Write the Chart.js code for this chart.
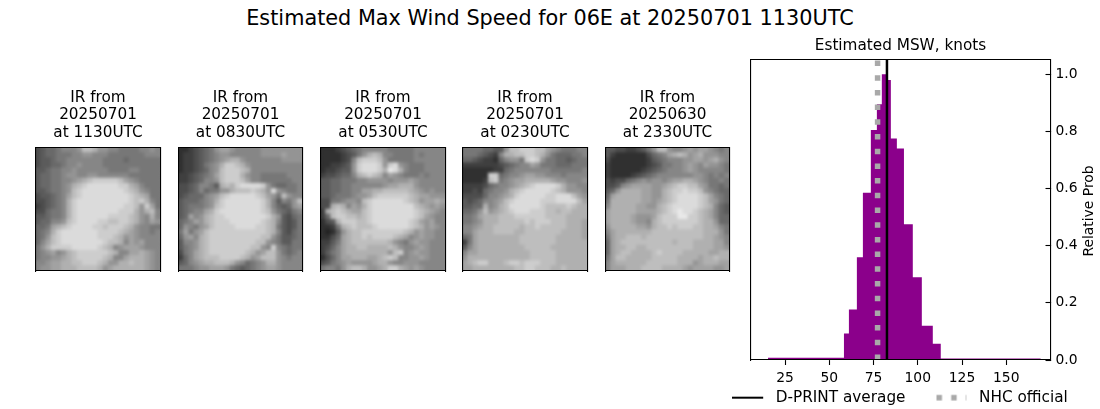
<!DOCTYPE html>
<html>
<head>
<meta charset="utf-8">
<style>
html,body{margin:0;padding:0;width:1100px;height:409px;background:#fff;overflow:hidden}
canvas{position:absolute;display:block}
#suptitle{position:absolute;left:0;top:6px;width:1100px;text-align:center;font:20.8px "DejaVu Sans";color:#000;line-height:25px}
</style>
<script src="https://cdn.jsdelivr.net/npm/chart.js@4/dist/chart.umd.min.js"></script>
</head>
<body>
<div id="suptitle">Estimated Max Wind Speed for 06E at 20250701 1130UTC</div>
<canvas id="p0"></canvas><canvas id="p1"></canvas><canvas id="p2"></canvas><canvas id="p3"></canvas><canvas id="p4"></canvas>
<canvas id="hist"></canvas>
<script>
// Histogram: bin edges (knots) and relative probability per bin
const binEdges = [15.4,58.3,61.1,65.6,69,73.5,76.9,79.7,82.6,84.8,88.2,92.2,97.2,102.3,108.5,113,169.5];
const binHeights = [0.008,0.093,0.177,0.36,0.585,0.805,0.895,1.0,0.98,0.775,0.74,0.475,0.29,0.12,0.057,0.005];
const dprintAverage = 82.6;
const nhcOfficial = 77.3;
const xTicks = [25,50,75,100,125,150];
const yTicks = [0,0.2,0.4,0.6,0.8,1.0];
const legendLabels = ["D-PRINT average","NHC official"];

// Panel titles
const panelDates = ["20250701","20250701","20250701","20250701","20250630"];
const panelTimes = ["1130UTC","0830UTC","0530UTC","0230UTC","2330UTC"];

// IR brightness on a 24x24 grid; one hex digit per cell (0 dark .. f bright)
const ir0 = ["456678889ccb998877778898","456677788998887777777888","455677888888877776777777","455667889888877777777777","556778898888887777887777","566778998899888888777777","56677889abcdddddca987777","5667789bcdeeeeeeddba8777","5567789cdeeeeeeeedcb9877","455678acdeeeeeeeeedcba77","445678bdeeeeeeeeeedcdb87","345678bdeeeeeeeeeddc9da7","446778bdeeeeeeeedddb9bc8","556778bdeeeeeeddddcb98b8","566889cdeeeeddccddcb98a9","667abcdeeeeddcdddcb98877","678bdeeeeeeeddddcba98878","679cdeeeeeeedddcb9a98888","68acdeeeeeeeedccb8a9a888","79bddddeeeeedcb89aaa9888","789a89bcddddddcb88aaba98","78899abcdddddcb88abbba98","889aabbccdddcb99bbcbba98","899aabbbccccb9abbbbbba98"];
const ir1 = ["22345679aa98888899999999","23345678998888889999a999","233456789abb988888889999","23345789bddcb98888888888","23345689cdddcb8888888888","3345678acdddb98877777888","33456889cdddca8877777788","44568875bcbdeeeed9766778","4456867799bcccdcb9e98778","4566689acdeeeeedca97c988","5666789bdeeeeeeedb85879c","5677789cdeeeeeeedb86569a","56788abdeeeeeeeedc976578","56a89bcddeeeeeeeedb95467","678a9bcdddeeeeeedcb85457","69879acddddeeeeddcb75457","7a79acdddddddddddcb85467","69a8bcddddddddddcc975567","5889bcdddddddddcc9875577","5789bcddddddddcc98d87677","478abcdddddddcb9acc97678","368abcccddddcb9accc98788","5689abbcccb986789bb98888","777899aaa97656789aa98888"];
const ir2 = ["222345678888877777888888","222234579bcb887777878888","2222348cdddc977777888888","2233459deeed9de987778888","2334559deeedbfeb87778888","3445668bcdcb8a9877787888","55667778899998999a988888","5566778888889aabbb988888","55667788aabbcccccba98988","556777899acddddddcbaa999","44778998cdeeeeeedcb9aaba","44bcb8a9bdeeeeeeeecba9a9","3bcdcbaacdeeeeeeeedcba98","36cddccbcdeeeeeeeedca988","245bdddccdeeeeeeedca9a88","2237bcdcccdeeeeeedcb9a98","21259bccddddddddcb9a9988","2246abccdcddddcba89a9988","3357abcccccccb9879a99888","3468abbccbbbbcb9889a9888","3578abbbbbbbb9cd89a99888","2468aabbbaabcdc8899a9888","45789a9999abb98899988888","78879bccb99abddba9a98888"];
const ir3 = ["777766559ccdddcca9877788","77765438bbccddcb97666778","665433268997ded977665677","3333333456788a9777666777","222222336788888887777778","22222dd67889aa9988878888","22223cd789aabbbbba998889","3333467889abcdeeeedb9988","334367889bcdeeeeedcb9998","44446889abdeeeeeddeeeca9","5456889acdeeeeedddeeeeca","5566b89bceeeeeedccccdcbb","6679c9abcdeeedddccbccbbb","778abbbcccddddddccccbbbb","7789bbbcccccdcdddcccbbba","889abbcccccbccdcccccbbba","88abbbccccbbcccccccbbbba","67abbbbbbbbcccccccbbbbba","37abbbbbbbbcccccccbbbbbb","58abbbbbbbbbcccccbbbbbbb","8aabbbbbbbbbbcccccbbbbbb","9bbbbbbbbbbbbcccccbbbbbb","abcddbbbcddcdddcccbbbbbb","aabbbbbbbbccddcccbbcbbbb"];
const ir4 = ["5544334579cc9889a9aa9878","532222224678abcb9ab99988","42222222356788899aa9ab98","3222222234577889a98a9987","3222222345678889a9888887","322223456788888889987878","4344678989989aabba987787","44589aaaa99abcddcca97767","569bbbbaa99bcddeddc98766","6abbbbbaa99bcdeeeedca876","7bbbbbbaa9abcdeeeedca976","8bbbbbaa99bcdeeeeedcb865","abbbbbaaaabcdefeedcba865","abbbba999acdddffddcba866","abbbba998bcdddddddcbb966","9bbbbbaa9bccdcdddccbba87","8abbbbbbbccccccccccbbb97","7abbcccbcccccccccccbba98","6abccccccccccbcccbbbbaa8","6abbccbbcccccccccbbbbaa9","6abccbbbbcdccccbbbbbaabb","7accbbbbbcccccbbbbabbcbb","8abbbbbbccccccbbb9abbbaa","8aaabbbccccbbbba9aaaa99a"];
const irGrids = [ir0,ir1,ir2,ir3,ir4];
const gridSize = 24;

const FONT = "DejaVu Sans";
Chart.defaults.font.family = FONT;
Chart.defaults.color = "#000";
Chart.defaults.animation = false;
Chart.defaults.responsive = false;
Chart.defaults.devicePixelRatio = 1;

function gray(d){ const v = Math.round(20 + d*14.2); return `rgb(${v},${v},${v})`; }

// Satellite panels
const panelBoxes = [[35.5,160.5],[178.5,302.5],[320.5,445.5],[462.5,587.5],[605.5,729.5]];
const panelBottom = 271;

const blurPlugin = {
  id:"softCells",
  afterDatasetsDraw(chart){
    const a = chart.chartArea, c = chart.ctx, w = a.right-a.left, h = a.bottom-a.top;
    const off = document.createElement("canvas");
    off.width = c.canvas.width; off.height = c.canvas.height;
    off.getContext("2d").drawImage(c.canvas,0,0);
    c.save();
    c.beginPath(); c.rect(a.left,a.top,w,h); c.clip();
    c.filter = "blur(1.6px)";
    c.drawImage(off,0,0);
    c.restore();
  }
};

panelBoxes.forEach((box,i)=>{
  const el = document.getElementById("p"+i);
  const left = Math.floor(box[0])-25, w = Math.ceil(box[1]-box[0])+50;
  el.width = w; el.height = 290;
  el.style.left = left+"px"; el.style.top = "0px";
  const grid = irGrids[i], pts = [], cols = [];
  grid.forEach((row,r)=>{ [...row].forEach((ch,k)=>{
    pts.push({x:(k+0.5)*gridSize/row.length,y:gridSize-0.5-r}); cols.push(gray(parseInt(ch,16)));
  });});
  const cell = (box[1]-box[0])/gridSize;
  new Chart(el,{
    type:"scatter",
    data:{datasets:[{data:pts,pointStyle:"rect",pointRadius:(cell+1)/Math.SQRT2,pointBorderWidth:0,pointBackgroundColor:cols,pointHoverRadius:0}]},
    plugins:[blurPlugin],
    options:{
      layout:{padding:{left:box[0]-left,right:left+w-box[1],top:88.8,bottom:290-panelBottom}},
      events:[],
      plugins:{
        legend:{display:false},tooltip:{enabled:false},
        title:{display:true,text:["IR from",panelDates[i],"at "+panelTimes[i]],font:{size:15.28,weight:"normal",lineHeight:1.15},color:"#000",padding:{top:0,bottom:6},fullSize:false}
      },
      scales:{
        x:{min:0,max:gridSize,grid:{display:false},ticks:{display:false},border:{color:"#000",width:1.1,z:1},afterFit(s){s.height=0;}},
        y:{min:0,max:gridSize,grid:{display:false},ticks:{display:false},border:{color:"#000",width:1.1,z:1},afterFit(s){s.width=0;}},
        xt:{position:"top",min:0,max:gridSize,grid:{display:false},ticks:{display:false},border:{color:"#000",width:1.1,z:1},afterFit(s){s.height=0;}},
        yr:{position:"right",min:0,max:gridSize,grid:{display:false},ticks:{display:false},border:{color:"#000",width:1.1,z:1},afterFit(s){s.width=0;}}
      }
    },
  });
});

// Legend samples (canvases used as point styles)
function sample(draw){
  const s = document.createElement("canvas"); s.width=36; s.height=8;
  draw(s.getContext("2d")); return s;
}
const lineSample = sample(c=>{c.strokeStyle="#000";c.lineWidth=2;c.beginPath();c.moveTo(0,4);c.lineTo(31,4);c.stroke();});
const dotSample = sample(c=>{c.strokeStyle="#a9a9a9";c.lineWidth=5.5;c.setLineDash([5.5,9.2]);c.beginPath();c.moveTo(1,4);c.lineTo(31,4);c.stroke();});

const CANVAS_LEFT = 680;
const rightLabel = {
  id:"rightLabel",
  afterDraw(chart){
    const c = chart.ctx;
    c.save();
    c.translate(1089-CANVAS_LEFT,(chart.chartArea.top+chart.chartArea.bottom)/2+1);
    c.rotate(-Math.PI/2);
    c.font = `13.89px "${FONT}"`; c.fillStyle="#000"; c.textAlign="center"; c.textBaseline="middle";
    c.fillText("Relative Prob",0,0);
    c.restore();
  }
};

const histEl = document.getElementById("hist");
histEl.width = 440; histEl.height = 409;
histEl.style.left = CANVAS_LEFT+"px"; histEl.style.top = "0px";

const tallest = 1.05;
new Chart(histEl,{
  type:"scatter",
  data:{datasets:[
    {label:legendLabels[0],data:[{x:dprintAverage,y:0},{x:dprintAverage,y:tallest}],showLine:true,borderColor:"#000",borderWidth:2.5,pointRadius:0,order:0,pointStyle:lineSample},
    {label:legendLabels[1],data:[{x:nhcOfficial,y:0},{x:nhcOfficial,y:tallest}],showLine:true,borderColor:"#a9a9a9",borderWidth:5.5,borderDash:[5.5,9.2],borderCapStyle:"butt",pointRadius:0,order:1,pointStyle:dotSample},
    {label:"hist",data:binHeights.map((h,i)=>({x:binEdges[i],y:h})).concat([{x:binEdges[binEdges.length-1],y:binHeights[binHeights.length-1]}]),
     showLine:true,stepped:"before",fill:"origin",backgroundColor:"#8b008b",borderWidth:0,borderColor:"#8b008b",pointRadius:0,order:2,tension:0}
  ]},
  plugins:[rightLabel],
  options:{
    events:[],
    layout:{padding:{left:0,right:0,top:36.66,bottom:-6.3}},
    plugins:{
      tooltip:{enabled:false},
      title:{display:true,text:"Estimated MSW, knots",font:{size:15.28,weight:"normal"},color:"#000",padding:{top:0,bottom:5},position:"top",fullSize:false},
      legend:{display:true,position:"bottom",
        labels:{usePointStyle:true,pointStyleWidth:36,font:{size:15.28},color:"#000",padding:30,boxHeight:8,
          filter:(it)=>it.text!=="hist"}}
    },
    scales:{
      x:{type:"linear",min:5.5,max:175,
        grid:{drawOnChartArea:false,drawTicks:true,tickLength:5,tickColor:"#000",tickWidth:1.1},
        border:{color:"#000",width:1.1,z:1},
        ticks:{autoSkip:false,maxRotation:0,font:{size:13.89},color:"#000",padding:5,callback:v=>String(v)},
        afterBuildTicks(s){s.ticks=xTicks.map(v=>({value:v}));},
        afterFit(s){s.height=0;s._computeLabelArea=()=>undefined;}},
      y:{position:"right",min:0,max:1.05,
        grid:{drawOnChartArea:false,drawTicks:true,tickLength:-5,tickColor:"#000",tickWidth:1.1},
        border:{color:"#000",width:1.1,z:1},
        ticks:{autoSkip:false,font:{size:13.89},color:"#000",padding:10,callback:v=>Number(v).toFixed(1)},
        afterBuildTicks(s){s.ticks=yTicks.map(v=>({value:v}));},
        afterFit(s){s.width=69.5;}},
      xt:{position:"top",min:5.5,max:175,grid:{display:false},ticks:{display:false},border:{color:"#000",width:1.1,z:1},afterFit(s){s.height=0;}},
      yl:{position:"left",min:0,max:1.05,grid:{display:false},ticks:{display:false},border:{color:"#000",width:1.1,z:1},afterFit(s){s.width=70.5;}}
    }
  }
});
</script>
</body>
</html>
